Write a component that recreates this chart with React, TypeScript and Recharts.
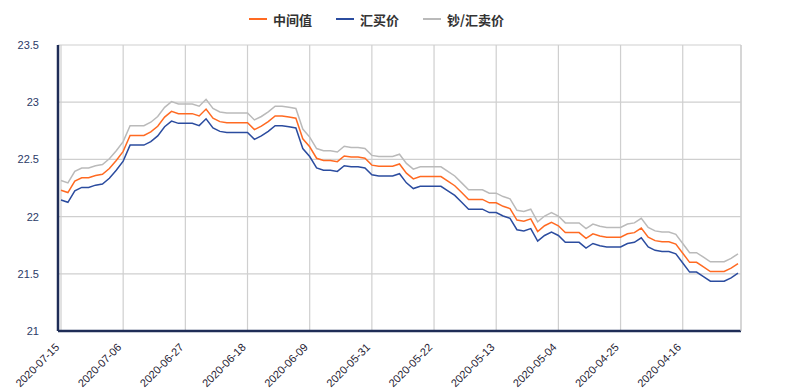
import { LineChart, Line, XAxis, YAxis, CartesianGrid } from 'recharts'

// one point per calendar day, newest first
const DATES = [
	'2020-07-15', '2020-07-14', '2020-07-13', '2020-07-12', '2020-07-11', '2020-07-10', '2020-07-09', '2020-07-08',
	'2020-07-07', '2020-07-06', '2020-07-05', '2020-07-04', '2020-07-03', '2020-07-02', '2020-07-01',
	'2020-06-30', '2020-06-29', '2020-06-28', '2020-06-27', '2020-06-26', '2020-06-25', '2020-06-24', '2020-06-23',
	'2020-06-22', '2020-06-21', '2020-06-20', '2020-06-19', '2020-06-18', '2020-06-17', '2020-06-16', '2020-06-15',
	'2020-06-14', '2020-06-13', '2020-06-12', '2020-06-11', '2020-06-10', '2020-06-09', '2020-06-08', '2020-06-07',
	'2020-06-06', '2020-06-05', '2020-06-04', '2020-06-03', '2020-06-02', '2020-06-01',
	'2020-05-31', '2020-05-30', '2020-05-29', '2020-05-28', '2020-05-27', '2020-05-26', '2020-05-25', '2020-05-24',
	'2020-05-23', '2020-05-22', '2020-05-21', '2020-05-20', '2020-05-19', '2020-05-18', '2020-05-17', '2020-05-16',
	'2020-05-15', '2020-05-14', '2020-05-13', '2020-05-12', '2020-05-11', '2020-05-10', '2020-05-09', '2020-05-08',
	'2020-05-07', '2020-05-06', '2020-05-05', '2020-05-04', '2020-05-03', '2020-05-02', '2020-05-01',
	'2020-04-30', '2020-04-29', '2020-04-28', '2020-04-27', '2020-04-26', '2020-04-25', '2020-04-24', '2020-04-23',
	'2020-04-22', '2020-04-21', '2020-04-20', '2020-04-19', '2020-04-18', '2020-04-17', '2020-04-16', '2020-04-15',
	'2020-04-14', '2020-04-13', '2020-04-12', '2020-04-11', '2020-04-10', '2020-04-09', '2020-04-08',
]

const MID = [
	22.23, 22.21, 22.31, 22.34, 22.34, 22.36, 22.37, 22.42, 22.49, 22.57,
	22.71, 22.71, 22.71, 22.74, 22.79, 22.87, 22.92, 22.9, 22.9, 22.9,
	22.88, 22.94, 22.86, 22.83, 22.82, 22.82, 22.82, 22.82, 22.76, 22.79,
	22.83, 22.88, 22.88, 22.87, 22.86, 22.68, 22.61, 22.51, 22.49, 22.49,
	22.48, 22.53, 22.52, 22.52, 22.51, 22.45, 22.44, 22.44, 22.44, 22.46,
	22.38, 22.33, 22.35, 22.35, 22.35, 22.35, 22.31, 22.27, 22.21, 22.15,
	22.15, 22.15, 22.12, 22.12, 22.09, 22.07, 21.97, 21.96, 21.98, 21.87,
	21.92, 21.95, 21.92, 21.86, 21.86, 21.86, 21.81, 21.85, 21.83, 21.82,
	21.82, 21.82, 21.85, 21.86, 21.9, 21.82, 21.79, 21.78, 21.78, 21.76,
	21.68, 21.6, 21.6, 21.56, 21.52, 21.52, 21.52, 21.55, 21.59,
]

const BUY = [
	22.145, 22.125, 22.225, 22.255, 22.255, 22.275, 22.285, 22.335, 22.405, 22.485,
	22.625, 22.625, 22.625, 22.655, 22.705, 22.785, 22.835, 22.815, 22.815, 22.815,
	22.795, 22.855, 22.775, 22.745, 22.735, 22.735, 22.735, 22.735, 22.675, 22.705,
	22.745, 22.795, 22.795, 22.785, 22.775, 22.595, 22.525, 22.425, 22.405, 22.405,
	22.395, 22.445, 22.435, 22.435, 22.425, 22.365, 22.355, 22.355, 22.355, 22.375,
	22.295, 22.245, 22.265, 22.265, 22.265, 22.265, 22.225, 22.185, 22.125, 22.065,
	22.065, 22.065, 22.035, 22.035, 22.005, 21.985, 21.885, 21.875, 21.895, 21.785,
	21.835, 21.865, 21.835, 21.775, 21.775, 21.775, 21.725, 21.765, 21.745, 21.735,
	21.735, 21.735, 21.765, 21.775, 21.815, 21.735, 21.705, 21.695, 21.695, 21.675,
	21.595, 21.515, 21.515, 21.475, 21.435, 21.435, 21.435, 21.465, 21.505,
]

const SELL = [
	22.315, 22.295, 22.395, 22.425, 22.425, 22.445, 22.455, 22.505, 22.575, 22.655,
	22.795, 22.795, 22.795, 22.825, 22.875, 22.955, 23.005, 22.985, 22.985, 22.985,
	22.965, 23.025, 22.945, 22.915, 22.905, 22.905, 22.905, 22.905, 22.845, 22.875,
	22.915, 22.965, 22.965, 22.955, 22.945, 22.765, 22.695, 22.595, 22.575, 22.575,
	22.565, 22.615, 22.605, 22.605, 22.595, 22.535, 22.525, 22.525, 22.525, 22.545,
	22.465, 22.415, 22.435, 22.435, 22.435, 22.435, 22.395, 22.355, 22.295, 22.235,
	22.235, 22.235, 22.205, 22.205, 22.175, 22.155, 22.055, 22.045, 22.065, 21.955,
	22.005, 22.035, 22.005, 21.945, 21.945, 21.945, 21.895, 21.935, 21.915, 21.905,
	21.905, 21.905, 21.935, 21.945, 21.985, 21.905, 21.875, 21.865, 21.865, 21.845,
	21.765, 21.685, 21.685, 21.645, 21.605, 21.605, 21.605, 21.635, 21.675,
]

const DATE_TICKS = [
	'2020-07-15', '2020-07-06', '2020-06-27', '2020-06-18', '2020-06-09', '2020-05-31',
	'2020-05-22', '2020-05-13', '2020-05-04', '2020-04-25', '2020-04-16',
]
const Y_TICKS = [21, 21.5, 22, 22.5, 23, 23.5]

const SERIES = [
	{ key: 'mid', name: '中间值', color: '#ff6a22' },
	{ key: 'buy', name: '汇买价', color: '#2b4c9f' },
	{ key: 'sell', name: '钞/汇卖价', color: '#bababa' },
]

const data = DATES.map((date, i) => ({
	date,
	mid: MID[i],
	buy: BUY[i],
	sell: SELL[i],
}))

function DateTick({ x, y, payload }: { x: number; y: number; payload: { value: string } }) {
	return (
		<g transform={`translate(${x - 1},${y + 9})`}>
			<text
				x={0}
				y={0}
				textAnchor='end'
				transform='rotate(-45)'
				fontSize={11}
				fontFamily='"Liberation Sans", Arial, sans-serif'
				fill='#1f2233'
			>
				{payload.value}
			</text>
		</g>
	)
}

export default function App() {
	return (
		<div
			style={{
				position: 'absolute',
				left: 0,
				top: 0,
				width: 785,
				height: 391,
				background: '#fff',
				fontFamily: '"Liberation Sans", Arial, sans-serif',
			}}
		>
			{/* Legend */}
			<div
				style={{
					position: 'absolute',
					left: 249,
					top: 9,
					height: 20,
					display: 'flex',
					alignItems: 'center',
					fontFamily: '"Noto Sans CJK SC", sans-serif',
					fontSize: 13,
					fontWeight: 700,
					color: '#333',
				}}
			>
				{SERIES.map(s => (
					<div key={s.key} style={{ display: 'flex', alignItems: 'center', marginRight: 24 }}>
						<div style={{ width: 18, height: 2, background: s.color, marginRight: 6 }} />
						<span>{s.name}</span>
					</div>
				))}
			</div>

			<LineChart
				width={785}
				height={391}
				data={data}
				margin={{ top: 45, right: 43, bottom: 0, left: 0 }}
			>
				<CartesianGrid stroke='#cfcfcf' strokeWidth={1.2} />
				<XAxis
					dataKey='date'
					ticks={DATE_TICKS}
					interval={0}
					height={60}
					padding={{ left: 3, right: 3 }}
					axisLine={{ stroke: '#1f2d57', strokeWidth: 2.5 }}
					tickLine={false}
					tick={DateTick}
				/>
				<YAxis
					width={58}
					domain={[21, 23.5]}
					ticks={Y_TICKS}
					allowDataOverflow
					axisLine={{ stroke: '#1f2d57', strokeWidth: 2.5 }}
					tickLine={false}
					tickSize={0}
					tickMargin={19}
					tick={{ fontSize: 11, fill: '#2b3a67' }}
				/>
				<YAxis
					yAxisId='frame'
					orientation='right'
					width={1}
					domain={[21, 23.5]}
					axisLine={{ stroke: '#cfcfcf', strokeWidth: 1.2 }}
					tickLine={false}
					tick={false}
				/>
				{SERIES.map(s => (
					<Line
						key={s.key}
						type='linear'
						dataKey={s.key}
						name={s.name}
						stroke={s.color}
						strokeWidth={1.5}
						dot={false}
						activeDot={false}
						isAnimationActive={false}
					/>
				))}
			</LineChart>
		</div>
	)
}
